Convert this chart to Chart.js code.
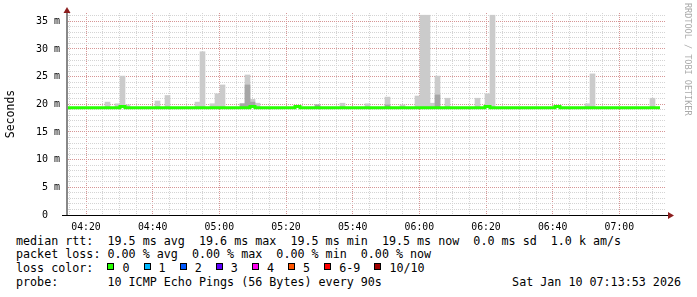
<!DOCTYPE html>
<html>
<head>
<meta charset="utf-8">
<script src="https://cdn.jsdelivr.net/npm/chart.js@4.4.1/dist/chart.umd.min.js"></script>
<style>
  html, body { margin: 0; padding: 0; background: #fff; }
  #wrap { position: relative; width: 697px; height: 297px; overflow: hidden; font-family: "DejaVu Sans Mono", monospace; color: #000; }
  #chart { position: absolute; left: 0; top: 0; }
  .legend { position: absolute; left: 16px; top: 234.5px; font-size: 11.7px; line-height: 13.8px; white-space: pre; }
  .box { display: inline-block; width: 5px; height: 5px; border: 1px solid #000; margin-right: 8px; vertical-align: 2px; }
  #stamp { position: absolute; right: 16px; top: 275.9px; font-size: 11.7px; line-height: 13.8px; white-space: pre; }
  #credit { position: absolute; left: 683px; top: 3px; writing-mode: vertical-rl; font-size: 8.5px; line-height: 10px; color: #aaa; white-space: pre; }
</style>
</head>
<body>
<div id="wrap">
  <canvas id="chart" width="697" height="232"></canvas>
  <div class="legend" id="legend"></div>
  <div id="stamp">Sat Jan 10 07:13:53 2026</div>
  <div id="credit">RRDTOOL / TOBI OETIKER</div>
</div>
<script>
// 90 s steps, the first one starts at 04:13:42 (minutes after midnight)
const firstStep = 4 * 60 + 13 + 42 / 60;
const stepMin = 1.5;

// median rtt per step (ms)
const median = [
  19.4, 19.4, 19.4, 19.4, 19.4, 19.4, 19.4, 19.4, 19.4, 19.4,
  19.4, 19.6, 19.4, 19.4, 19.4, 19.4, 19.4, 19.4, 19.4, 19.4,
  19.4, 19.4, 19.4, 19.4, 19.4, 19.4, 19.4, 19.4, 19.4, 19.4,
  19.4, 19.4, 19.4, 19.4, 19.4, 19.4, 19.4, 19.6, 19.4, 19.4,
  19.4, 19.4, 19.4, 19.4, 19.4, 19.4, 19.6, 19.4, 19.4, 19.4,
  19.4, 19.4, 19.4, 19.4, 19.4, 19.4, 19.4, 19.4, 19.4, 19.4,
  19.4, 19.4, 19.4, 19.4, 19.4, 19.4, 19.4, 19.4, 19.4, 19.4,
  19.4, 19.4, 19.4, 19.4, 19.4, 19.4, 19.4, 19.4, 19.4, 19.4,
  19.4, 19.4, 19.4, 19.4, 19.6, 19.4, 19.4, 19.4, 19.4, 19.4,
  19.4, 19.4, 19.4, 19.4, 19.4, 19.4, 19.4, 19.4, 19.6, 19.4,
  19.4, 19.4, 19.4, 19.4, 19.4, 19.4, 19.4, 19.4, 19.4, 19.4,
  19.4, 19.4, 19.4, 19.4, 19.4, 19.4, 19.4, 19.4, 19.4
];

// smoke: steps with scattered pings and the highest ping of each (ms)
const smokeStep = [8, 10, 11, 12, 18, 20, 26, 27, 29, 30, 31, 35, 36, 37, 38, 50,
  55, 60, 64, 67, 70, 71, 72, 73, 74, 76, 82, 84, 85, 104, 105, 117];
const smokeTop = [20.4, 20.1, 25.1, 19.9, 20.6, 21.6, 20.4, 29.5, 20.1, 21.9, 23.5, 20.1, 25.3, 20.9, 20.2, 19.9,
  20.2, 20.1, 21.3, 19.9, 21.5, 36.1, 36.1, 20.2, 25.1, 21.1, 21.1, 21.9, 36.1, 20.1, 25.5, 21.1];
// denser part of the smoke
const coreStep = [35, 36, 37, 50, 64, 74];
const coreTop = [20.1, 23.5, 20.4, 19.9, 19.9, 21.7];

const timeLabels = ['04:20', '04:40', '05:00', '05:20', '05:40', '06:00', '06:20', '06:40', '07:00'];
const yLabels = ['0', '5 m', '10 m', '15 m', '20 m', '25 m', '30 m', '35 m'];

const lossLabels = ['0', '1', '2', '3', '4', '5', '6-9', '10/10'];
const lossColors = ['#26ff00', '#00b8ff', '#0059ff', '#5e00ff', '#ff00f0', '#ff5500', '#ff0000', '#a10000'];

const hhmm = (v) => String(Math.floor(v / 60)).padStart(2, '0') + ':' + String(Math.round(v % 60)).padStart(2, '0');

function floating(steps, tops) {
  return median.map((m, i) => {
    const j = steps.indexOf(i);
    return { x: firstStep + stepMin * (i + 0.5), y: j < 0 ? null : [m, tops[j]] };
  });
}

const medianLine = [];
median.forEach((m, i) => {
  medianLine.push({ x: firstStep + stepMin * i, y: m });
  medianLine.push({ x: firstStep + stepMin * (i + 1), y: m });
});

const minorGrid = '#d4d4d4';
const majorGrid = 'rgb(214,150,150)';

const axisArrows = {
  id: 'axisArrows',
  afterDraw(chart) {
    const { ctx, chartArea: a } = chart;
    ctx.save();
    ctx.fillStyle = '#888';
    ctx.fillRect(a.left, a.top - 1, 2, a.bottom - a.top + 1);
    ctx.fillStyle = '#000';
    ctx.fillRect(a.left - 4, a.bottom, a.right - a.left + 6, 1);
    ctx.fillStyle = '#8c1e1e';
    ctx.beginPath();
    ctx.moveTo(a.left + 1, a.top - 6);
    ctx.lineTo(a.left - 2.5, a.top);
    ctx.lineTo(a.left + 4.5, a.top);
    ctx.fill();
    ctx.beginPath();
    ctx.moveTo(a.right + 8, a.bottom + 0.5);
    ctx.lineTo(a.right + 2, a.bottom - 3);
    ctx.lineTo(a.right + 2, a.bottom + 4);
    ctx.fill();
    ctx.restore();
  }
};

Chart.defaults.font.family = 'DejaVu Sans Mono';
Chart.defaults.color = '#000';

new Chart(document.getElementById('chart'), {
  type: 'bar',
  data: {
    datasets: [{
      type: 'line',
      data: medianLine,
      borderColor: '#26ff00',
      borderWidth: 3,
      pointRadius: 0,
      tension: 0,
      borderJoinStyle: 'miter',
      clip: 0
    }, {
      data: floating(coreStep, coreTop),
      backgroundColor: '#a6a6a6',
      grouped: false
    }, {
      data: floating(smokeStep, smokeTop),
      backgroundColor: '#cbcbcb',
      grouped: false
    }]
  },
  options: {
    responsive: false,
    animation: false,
    layout: { padding: { left: 0, top: 13, right: 31, bottom: 0 } },
    datasets: { bar: { barPercentage: 1, categoryPercentage: 1, borderWidth: 0, borderSkipped: false } },
    plugins: { legend: { display: false }, tooltip: { enabled: false } },
    scales: {
      x: {
        type: 'linear',
        offset: false,
        min: 4 * 60 + 14,
        max: 7 * 60 + 14,
        afterBuildTicks: (s) => {
          const t = [];
          for (let v = 255; v <= 430; v += 5) t.push({ value: v });
          s.ticks = t;
        },
        afterFit: (s) => { s.height = 17; },
        ticks: {
          autoSkip: false, maxRotation: 0, minRotation: 0, padding: 7,
          font: { size: 9.8 },
          callback: (v) => timeLabels.includes(hhmm(v)) ? hhmm(v) : ''
        },
        grid: {
          offset: false,
          drawTicks: false,
          color: (c) => c.tick && c.tick.value % 20 === 0 ? majorGrid : minorGrid
        },
        border: { display: false, dash: [1, 1] }
      },
      y: {
        min: 0,
        max: 36.5,
        afterBuildTicks: (s) => {
          const t = [];
          for (let v = 0; v <= 36; v++) t.push({ value: v });
          s.ticks = t;
        },
        afterFit: (s) => { s.width = 66; },
        ticks: {
          autoSkip: false, padding: 6,
          font: { size: 10 },
          callback: (v) => {
            if (v % 5 !== 0) return '';
            const l = yLabels[v / 5];
            return l.includes(' ') ? l : l + '  ';
          }
        },
        grid: {
          drawTicks: false,
          color: (c) => c.tick && c.tick.value % 5 === 0 ? majorGrid : minorGrid
        },
        border: { display: false, dash: [1, 1] },
        title: { display: true, text: 'Seconds', font: { size: 11.5 }, padding: { top: 4, bottom: 0 } }
      }
    }
  },
  plugins: [axisArrows]
});

const boxes = lossLabels.map((l, i) =>
  '<span class="box" style="background:' + lossColors[i] + '"></span>' + l).join('  ');
document.getElementById('legend').innerHTML = [
  'median rtt:  19.5 ms avg  19.6 ms max  19.5 ms min  19.5 ms now  0.0 ms sd  1.0 k am/s',
  'packet loss: 0.00 % avg  0.00 % max  0.00 % min  0.00 % now',
  'loss color:  ' + boxes,
  'probe:       10 ICMP Echo Pings (56 Bytes) every 90s'
].join('\n');
</script>
</body>
</html>
